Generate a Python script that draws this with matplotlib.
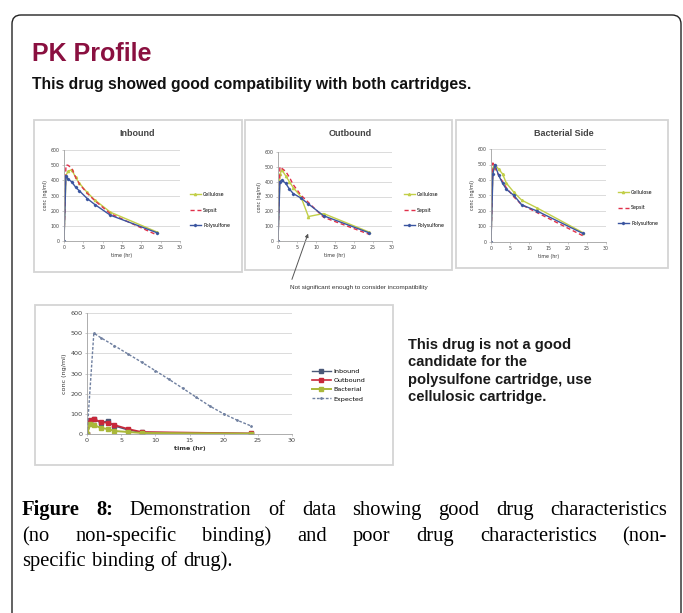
import matplotlib
matplotlib.use('Agg')
import matplotlib.pyplot as plt
from matplotlib.patches import FancyBboxPatch, Rectangle

W, H = 683, 613

# sample times (hr) for the three small panels
hours = [0, 0.5, 1, 2, 3, 4, 6, 8, 12, 24]

# Inbound panel (ng/ml)
in_cell = [0, 430, 460, 470, 420, 380, 320, 270, 190, 60]
in_seps = [0, 500, 500, 480, 420, 375, 315, 265, 180, 40]
in_poly = [0, 430, 410, 390, 355, 330, 280, 240, 170, 55]

# Outbound panel
out_cell = [0, 450, 480, 440, 400, 360, 300, 165, 185, 60]
out_seps = [0, 500, 490, 470, 430, 380, 310, 260, 160, 45]
out_poly = [0, 400, 410, 390, 350, 320, 290, 250, 170, 55]

# Bacterial side panel
bac_cell = [0, 480, 500, 470, 440, 380, 320, 270, 220, 60]
bac_seps = [0, 510, 480, 430, 390, 350, 290, 240, 190, 40]
bac_poly = [0, 440, 500, 430, 380, 340, 300, 240, 200, 55]

small_labels = ['Cellulose', 'Sepsit', 'Polysulfone']

# bottom panel
bot_hours = [0, 0.5, 1, 2, 3, 4, 6, 8, 24]
bot_in = [0, 55, 75, 55, 65, 40, 20, 8, 2]
bot_out = [0, 70, 75, 60, 55, 45, 25, 10, 3]
bot_bact = [0, 50, 45, 30, 25, 15, 10, 5, 2]
exp_hours = [0, 1, 2, 4, 6, 8, 10, 12, 14, 16, 18, 20, 22, 24]
exp_conc = [0, 500, 478, 438, 397, 356, 314, 271, 227, 182, 138, 100, 68, 40]
bot_labels = ['Inbound', 'Outbound', 'Bacterial', 'Expected']

fig = plt.figure(figsize=(W / 100, H / 100), dpi=100)

# background axes in pixel coordinates
bg = fig.add_axes([0, 0, 1, 1])
bg.set_xlim(0, W)
bg.set_ylim(H, 0)
bg.axis('off')


def pax(x0, y0, x1, y1):
    return fig.add_axes([x0 / W, 1 - y1 / H, (x1 - x0) / W, (y1 - y0) / H])


# outer rounded frame
bg.add_patch(FancyBboxPatch((12, 15), 669, 640, boxstyle='round,pad=0,rounding_size=9',
                            fc='white', ec='#222222', lw=1.0))

bg.text(32, 61, 'PK Profile', fontsize=18, fontweight='bold', color='#8a1040',
        family='Liberation Sans', va='baseline')
bg.text(32, 89, 'This drug showed good compatibility with both cartridges.', fontsize=11.3,
        fontweight='bold', color='#111111', family='Liberation Sans', va='baseline')

# panel frames
for (x0, y0, x1, y1) in [(34, 120, 242, 272), (245, 120, 452, 270), (456, 120, 668, 268),
                         (35, 305, 393, 465)]:
    bg.add_patch(Rectangle((x0, y0), x1 - x0, y1 - y0, fc='white', ec='#d4d4d4', lw=1.3))

cell_c = '#c2cf48'
seps_c = '#e0304a'
poly_c = '#3a55a0'


def style_small(ax, fs=3.4):
    ax.set_facecolor('none')
    ax.set_xlim(0, 30)
    ax.set_ylim(0, 600)
    ax.set_xticks(range(0, 31, 5))
    ax.set_yticks(range(0, 601, 100))
    ax.yaxis.grid(True, color='#d6d6d6', lw=0.6)
    ax.set_axisbelow(True)
    for s in ['top', 'right']:
        ax.spines[s].set_visible(False)
    for s in ['left', 'bottom']:
        ax.spines[s].set_color('#a0a0a0')
        ax.spines[s].set_linewidth(0.6)
    ax.tick_params(labelsize=fs, length=1.5, width=0.4, color='#a0a0a0', pad=1.5,
                   labelcolor='#444444')


panels = [
    ((64, 150, 180, 241), 'Inbound', (in_cell, in_seps, in_poly), (186, 210)),
    ((278, 152, 392, 241), 'Outbound', (out_cell, out_seps, out_poly), (400, 210)),
    ((491, 149, 606, 242), 'Bacterial Side', (bac_cell, bac_seps, bac_poly), (614, 208)),
]

for (x0, y0, x1, y1), title, (c, s, p), (lx, ly) in panels:
    ax = pax(x0, y0, x1, y1)
    style_small(ax)
    ax.plot(hours, c, color=cell_c, lw=1.0, marker='^', ms=1.6, label=small_labels[0])
    ax.plot(hours, s, color=seps_c, lw=1.0, ls=(0, (3, 2)), label=small_labels[1])
    ax.plot(hours, p, color=poly_c, lw=1.0, marker='D', ms=1.2, label=small_labels[2])
    ax.set_ylabel('conc (ng/ml)', fontsize=3.4, labelpad=2, color='#333333')
    ax.set_xlabel('time (hr)', fontsize=3.4, labelpad=2, color='#333333')
    ax.legend(loc='center left', bbox_to_anchor=(lx / W, 1 - ly / H),
              bbox_transform=fig.transFigure, frameon=False, fontsize=3.4,
              handlelength=2.2, labelspacing=2.2, handletextpad=0.5)
    bg.text((x0 + x1) / 2 + 15, 133, title, fontsize=6.5, fontweight='bold',
            color='#444444', ha='center', va='center', family='Liberation Sans')

# annotation in the Outbound panel
bg.annotate('', xy=(309, 231), xytext=(291, 282),
            arrowprops=dict(arrowstyle='-|>', color='#555555', lw=0.7, mutation_scale=5))
bg.text(359, 287, 'Not significant enough to consider incompatibility', fontsize=4.6,
        color='#333333', ha='center', va='center', family='Liberation Sans')

# bottom panel
ax = pax(87, 313, 292, 434)
style_small(ax, fs=4.6)
ax.plot(bot_hours, bot_in, color='#4a5878', lw=1.0, marker='s', ms=2.2, label=bot_labels[0])
ax.plot(bot_hours, bot_out, color='#c8283a', lw=1.2, marker='s', ms=3.0, label=bot_labels[1])
ax.plot(bot_hours, bot_bact, color='#aab83a', lw=1.4, marker='s', ms=2.2, label=bot_labels[2])
ax.plot(exp_hours, exp_conc, color='#7080a0', lw=1.0, ls=(0, (2, 1.2)), marker='.', ms=2.0,
        label=bot_labels[3])
ax.set_ylabel('conc (ng/ml)', fontsize=4.6, labelpad=3, color='#333333')
ax.set_xlabel('time (hr)', fontsize=4.6, labelpad=2, color='#333333', fontweight='bold')
ax.legend(loc='center left', bbox_to_anchor=(306 / W, 1 - 385 / H),
          bbox_transform=fig.transFigure, frameon=False, fontsize=4.6,
          handlelength=3, labelspacing=0.6, handletextpad=0.4)

right_lines = ['This drug is not a good', 'candidate for the',
               'polysulfone cartridge, use', 'cellulosic cartridge.']
for i, ln in enumerate(right_lines):
    bg.text(408, 349 + i * 17.5, ln, fontsize=10.6, fontweight='bold', color='#1a1a1a',
            family='Liberation Sans', va='baseline')

# caption, justified like the source
cap_lines = [
    [('Figure', True), ('8:', True), ('Demonstration', False), ('of', False), ('data', False),
     ('showing', False), ('good', False), ('drug', False), ('characteristics', False)],
    [('(no', False), ('non-specific', False), ('binding)', False), ('and', False),
     ('poor', False), ('drug', False), ('characteristics', False), ('(non-', False)],
    [('specific', False), ('binding', False), ('of', False), ('drug).', False)],
]
cap_base = [515, 541, 566]
cap_left, cap_right = 22, 667
cap_fs = 14.8
renderer = fig.canvas.get_renderer()

for li, words in enumerate(cap_lines):
    texts = []
    for w, b in words:
        t = bg.text(0, cap_base[li], w, fontsize=cap_fs, family='Liberation Serif',
                    fontweight='bold' if b else 'normal', color='black', va='baseline')
        texts.append(t)
    widths = [t.get_window_extent(renderer).width for t in texts]
    space = cap_fs * 0.3 / 0.72
    if li < 2:
        gap = (cap_right - cap_left - sum(widths)) / (len(words) - 1)
    else:
        gap = space
    x = cap_left
    for t, wd in zip(texts, widths):
        t.set_x(x)
        x += wd + gap

fig.savefig('out.png', dpi=100)
